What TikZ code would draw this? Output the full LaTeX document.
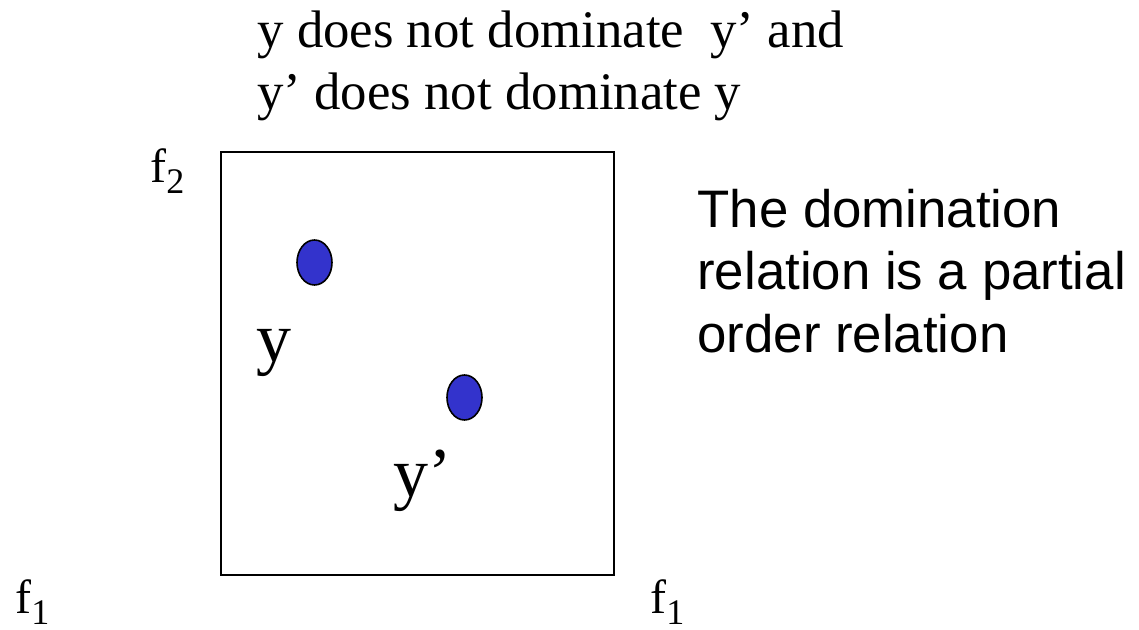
\documentclass[tikz,border=0pt]{standalone}
\usepackage{fontspec}
\setmainfont{Liberation Serif}
\newfontfamily\arialfont{Liberation Sans}
\usetikzlibrary{shapes.geometric}
\definecolor{dotblue}{HTML}{3333CC}
\tikzset{
  lbl/.style={inner sep=0pt, anchor=base west},
  toptext/.style={lbl, font=\fontsize{26.4}{31}\selectfont},
  sidetext/.style={lbl, font=\arialfont\fontsize{26.4}{31}\selectfont},
  ptlbl/.style={lbl, font=\fontsize{35}{40}\selectfont},
  axis/.style={lbl, font=\fontsize{24}{28}\selectfont},
  solution/.style={ellipse, draw=black, line width=0.8pt, fill=dotblue,
    minimum width=17.5pt, minimum height=22.5pt, inner sep=0pt}
}
\newcommand{\fsub}[1]{f\raisebox{-5.5pt}{\fontsize{18}{18}\selectfont #1}}
\begin{document}
\begin{tikzpicture}[x=0.5pt, y=-0.5pt]
  \useasboundingbox (0,0) rectangle (1139,630);
  % statement above the plot
  \node[toptext] (line1) at (257,48) {y does not dominate \ y’ and};
  \node[toptext] (line2) at (257,110) {y’ does not dominate y};
  % objective space
  \draw[line width=1pt] (221,152) rectangle (614,575);
  \node[axis] (f2) at (150,183) {\fsub{2}};
  \node[axis] (f1left) at (15,613) {\fsub{1}};
  \node[axis] (f1right) at (650,613) {\fsub{1}};
  % the two points
  \node[solution] (y) at (314.5,262.5) {};
  \node[solution] (yp) at (464.5,397.5) {};
  \node[ptlbl] (ylbl) at (256,361) {y};
  \node[ptlbl] (yplbl) at (393,496) {y’};
  % remark on the right
  \node[sidetext] (rem1) at (697,228) {The domination};
  \node[sidetext] (rem2) at (697,290) {relation is a partial};
  \node[sidetext] (rem3) at (697,352) {order relation};
\end{tikzpicture}
\end{document}
